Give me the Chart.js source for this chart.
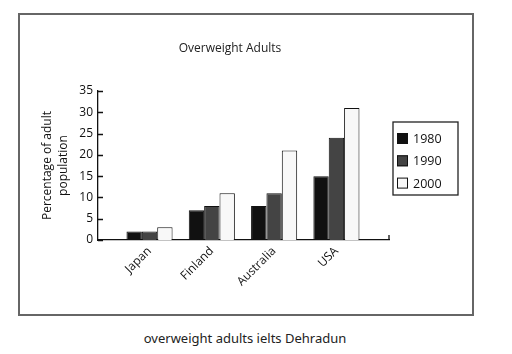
<!DOCTYPE html>
<html>
<head>
<meta charset="utf-8">
<script src="https://cdn.jsdelivr.net/npm/chart.js@4/dist/chart.umd.min.js"></script>
<style>
  html, body { margin: 0; padding: 0; background: #fff; }
  body { width: 512px; height: 354px; position: relative; overflow: hidden; }
  #frame {
    position: absolute; left: 18px; top: 13px;
    width: 456px; height: 303px; box-sizing: border-box;
    border: 2px solid #666;
  }
  #frame canvas { display: block; }
  #caption {
    position: absolute; left: 0; width: 490px; top: 329px;
    text-align: center; font: 13px "Noto Sans", sans-serif; color: #222;
  }
</style>
</head>
<body>
<div id="frame"><canvas id="grafica" width="452" height="299"></canvas></div>
<div id="caption">overweight adults ielts Dehradun</div>
<script>
// ── Datos ───────────────────────────────────────────────
const paises = ['Japan', 'Finland', 'Australia', 'USA'];
const anios = ['1980', '1990', '2000'];
const datos1980 = [2, 7, 8, 15];
const datos1990 = [2, 8, 11, 24];
const datos2000 = [3, 11, 21, 31];
const ticksY = [0, 5, 10, 15, 20, 25, 30, 35];

const colores = ['#111111', '#444444', '#f8f8f8'];
const series = [datos1980, datos1990, datos2000];

// limites del eje x (posicion 1..4 = paises)
const xMin = 0.173, xMax = 4.844;

// ── Plugins de dibujo ───────────────────────────────────
const extras = {
  id: 'extras',
  afterDraw(chart) {
    const ctx = chart.ctx;
    const y = chart.scales.y, x = chart.scales.x;
    ctx.save();
    // marcas del eje y hacia dentro
    ctx.strokeStyle = '#111';
    ctx.lineWidth = 1.3;
    ctx.beginPath();
    y.ticks.forEach(t => {
      const py = Math.round(y.getPixelForValue(t.value)) + 0.5;
      ctx.moveTo(y.right, py);
      ctx.lineTo(y.right + 5, py);
    });
    // marca al final del eje x
    ctx.moveTo(x.right, x.top);
    ctx.lineTo(x.right, x.top - 5);
    ctx.stroke();

    // titulo
    ctx.fillStyle = '#222';
    ctx.font = '12px "Open Sans"';
    ctx.textAlign = 'center';
    ctx.textBaseline = 'middle';
    ctx.fillText('Overweight Adults', 210, 34);

    // leyenda con borde
    const lx = 373, ly = 107, lw = 65, lh = 73;
    ctx.strokeStyle = '#222';
    ctx.lineWidth = 1.3;
    ctx.strokeRect(lx, ly, lw, lh);
    ctx.textAlign = 'left';
    ctx.font = '12.5px "Open Sans"';
    chart.data.datasets.forEach((ds, i) => {
      const cy = ly + 16.5 + i * 22.3;
      ctx.fillStyle = ds.backgroundColor;
      ctx.fillRect(lx + 4, cy - 5.5, 11, 11);
      ctx.lineWidth = 1;
      ctx.strokeStyle = '#111';
      ctx.strokeRect(lx + 4.5, cy - 5, 10, 10);
      ctx.fillStyle = '#111';
      ctx.fillText(ds.label, lx + 20, cy + 1);
    });
    ctx.restore();
  }
};

function crearGrafica() {
  const canvas = document.getElementById('grafica');
  Chart.defaults.font.family = '"Open Sans", sans-serif';
  Chart.defaults.font.size = 12;
  Chart.defaults.color = '#111';

  new Chart(canvas, {
    type: 'bar',
    data: {
      datasets: anios.map((a, i) => ({
        label: a,
        data: series[i].map((v, j) => ({ x: j + 1, y: v })),
        backgroundColor: colores[i],
        borderColor: '#111',
        borderWidth: 1,
        categoryPercentage: 0.74,
        barPercentage: 1
      }))
    },
    options: {
      responsive: false,
      animation: false,
      layout: { padding: { left: 20, right: 83, top: 76, bottom: 0 } },
      plugins: {
        legend: { display: false },
        title: { display: false },
        tooltip: { enabled: false }
      },
      scales: {
        x: {
          type: 'linear',
          offset: false,
          min: xMin,
          max: xMax,
          grid: { display: false, drawTicks: false, offset: false },
          border: { color: '#111', width: 1.3 },
          afterBuildTicks: s => { s.ticks = paises.map((p, i) => ({ value: i + 1 })); },
          afterFit: s => { s.height = 74; },
          ticks: {
            minRotation: 45, maxRotation: 45, padding: 4,
            callback: v => paises[v - 1]
          }
        },
        y: {
          min: 0,
          max: 35,
          grid: { display: false, drawTicks: false },
          border: { color: '#111', width: 1.3 },
          afterBuildTicks: s => { s.ticks = ticksY.map(v => ({ value: v })); },
          afterFit: s => { s.width = 58; },
          ticks: { padding: 5 },
          title: {
            display: true,
            text: ['Percentage of adult', 'population'],
            font: { size: 12, lineHeight: 1.3 },
            padding: { top: 0, bottom: 0 }
          }
        }
      }
    },
    plugins: [extras]
  });
}
crearGrafica();
</script>
</body>
</html>
